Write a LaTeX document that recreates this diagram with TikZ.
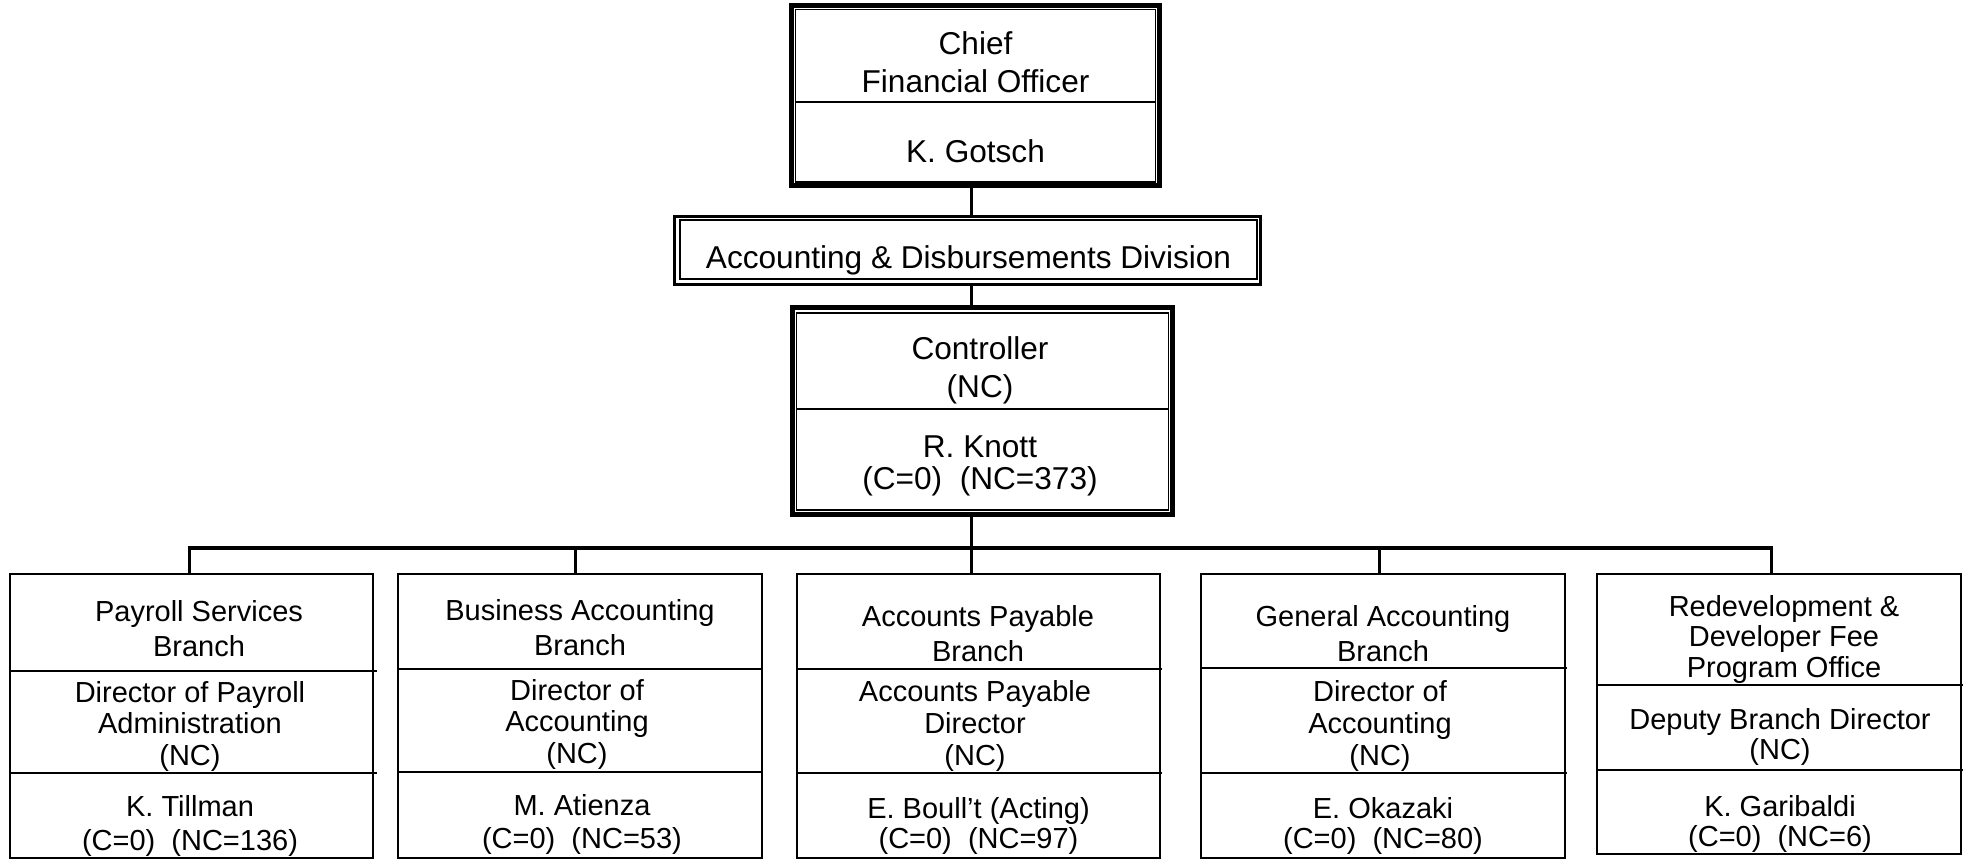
\documentclass[tikz,border=0pt]{standalone}
\usepackage{fontspec}
\setmainfont{Liberation Sans}
\begin{document}
\begin{tikzpicture}[x=0.5pt,y=-0.5pt,
  frame/.style={draw, inner sep=0pt, outer sep=0pt},
  branchbox/.style={frame, line width=1pt, minimum height=142pt},
  conn/.style={line width=1.6pt},
  divl/.style={line width=1pt},
  toptxt/.style={align=center, anchor=base, inner sep=0pt, font=\fontsize{15.8pt}{#1}\selectfont},
  bottxt/.style={align=center, anchor=base, inner sep=0pt, font=\fontsize{14.5pt}{#1}\selectfont}]
\useasboundingbox (0,0) rectangle (1971,860);

% Chief Financial Officer
\node[frame, line width=2.5pt, minimum width=184pt, minimum height=90.25pt] (cfo) at (975.5,95.75) {};
\node[frame, line width=0.6pt, minimum width=180pt, minimum height=86.25pt] (cfoin) at (975.75,95.75) {};
\draw[divl] (cfoin.west |- 0,102) -- (cfoin.east |- 0,102);
\node[toptxt=18.9pt] (cfot) at (975.5,92.7) {Chief\\Financial Officer};
\node[toptxt=18.9pt] (cfon) at (975.5,162.5) {K. Gotsch};

% Division
\node[frame, line width=1.5pt, minimum width=293pt, minimum height=34pt] (div) at (967.5,250.5) {};
\node[frame, line width=1pt, minimum width=288.6pt, minimum height=29.5pt] (divin) at (968.1,249.75) {};
\node[toptxt=18pt] (divt) at (968.5,268.3) {Accounting \& Disbursements Division};

% Controller
\node[frame, line width=2.5pt, minimum width=190pt, minimum height=103.5pt] (ctrl) at (982.5,411) {};
\node[frame, line width=0.6pt, minimum width=186.2pt, minimum height=98.5pt] (ctrlin) at (982.65,411.5) {};
\draw[divl] (ctrlin.west |- 0,409.3) -- (ctrlin.east |- 0,409.3);
\node[toptxt=18.7pt] (ctrlt) at (980,397.3) {Controller\\(NC)};
\node[toptxt=16.4pt] (ctrln) at (980,490) {R. Knott\\(C=0)~~(NC=373)};

% Branch boxes
\node[branchbox, minimum width=181.5pt] (b1) at (191.5,716) {};
\node[branchbox, minimum width=182pt] (b2) at (580,716) {};
\node[branchbox, minimum width=181.5pt] (b3) at (978.5,716) {};
\node[branchbox, minimum width=182pt] (b4) at (1383,716) {};
\node[branchbox, minimum width=182pt, minimum height=140pt] (b5) at (1779,714) {};

\draw[divl] (b1.west |- 0,670.8) -- (377,670.8);
\draw[divl] (b1.west |- 0,773.3) -- (377,773.3);
\draw[divl] (b2.west |- 0,668.8) -- (b2.east |- 0,668.8);
\draw[divl] (b2.west |- 0,771.7) -- (b2.east |- 0,771.7);
\draw[divl] (b3.west |- 0,668.8) -- (1162,668.8);
\draw[divl] (b3.west |- 0,772.7) -- (1162,772.7);
\draw[divl] (b4.west |- 0,668.3) -- (1567,668.3);
\draw[divl] (b4.west |- 0,772.7) -- (1567,772.7);
\draw[divl] (b5.west |- 0,685.3) -- (1963,685.3);
\draw[divl] (b5.west |- 0,770.3) -- (1963,770.3);

% Connectors
\coordinate (spine) at (971.3,548);
\coordinate (j1) at (189.3,548);
\coordinate (j2) at (575.7,548);
\coordinate (j4) at (1379.7,548);
\coordinate (j5) at (1771.7,548);
\draw[conn] (cfo.south -| spine) -- (div.north -| spine);
\draw[conn] (div.south -| spine) -- (ctrl.north -| spine);
\draw[conn] (ctrl.south -| spine) -- (b3.north -| spine);
\draw[conn] (b1.north -| j1) -- (j1) -- (j5) -- (b5.north -| j5);
\draw[conn] (j2) -- (b2.north -| j2);
\draw[conn] (j4) -- (b4.north -| j4);

% Branch texts (anchored at the baseline of the last line)
\node[bottxt=17.5pt] (b1a) at (199,656.7) {Payroll Services\\Branch};
\node[bottxt=15.6pt] (b1b) at (190,765) {Director of Payroll\\Administration\\(NC)};
\node[bottxt=17pt] (b1c) at (190,850) {K. Tillman\\(C=0)~~(NC=136)};

\node[bottxt=17.6pt] (b2a) at (580,656) {Business Accounting\\Branch};
\node[bottxt=15.6pt] (b2b) at (577,763) {Director of\\Accounting\\(NC)};
\node[bottxt=16.5pt] (b2c) at (582,848) {M. Atienza\\(C=0)~~(NC=53)};

\node[bottxt=17.5pt] (b3a) at (978,661.7) {Accounts Payable\\Branch};
\node[bottxt=15.8pt] (b3b) at (975,765) {Accounts Payable\\Director\\(NC)};
\node[bottxt=14.8pt] (b3c) at (978.5,848.3) {E. Boull’t (Acting)\\(C=0)~~(NC=97)};

\node[bottxt=17.5pt] (b4a) at (1383,661.7) {General Accounting\\Branch};
\node[bottxt=15.8pt] (b4b) at (1380,765) {Director of\\Accounting\\(NC)};
\node[bottxt=15pt] (b4c) at (1383,848) {E. Okazaki\\(C=0)~~(NC=80)};

\node[bottxt=15.25pt] (b5a) at (1784,677) {Redevelopment \&\\Developer Fee\\Program Office};
\node[bottxt=15.5pt] (b5b) at (1780,760) {Deputy Branch Director\\(NC)};
\node[bottxt=15.3pt] (b5c) at (1780,846.7) {K. Garibaldi\\(C=0)~~(NC=6)};
\end{tikzpicture}
\end{document}
